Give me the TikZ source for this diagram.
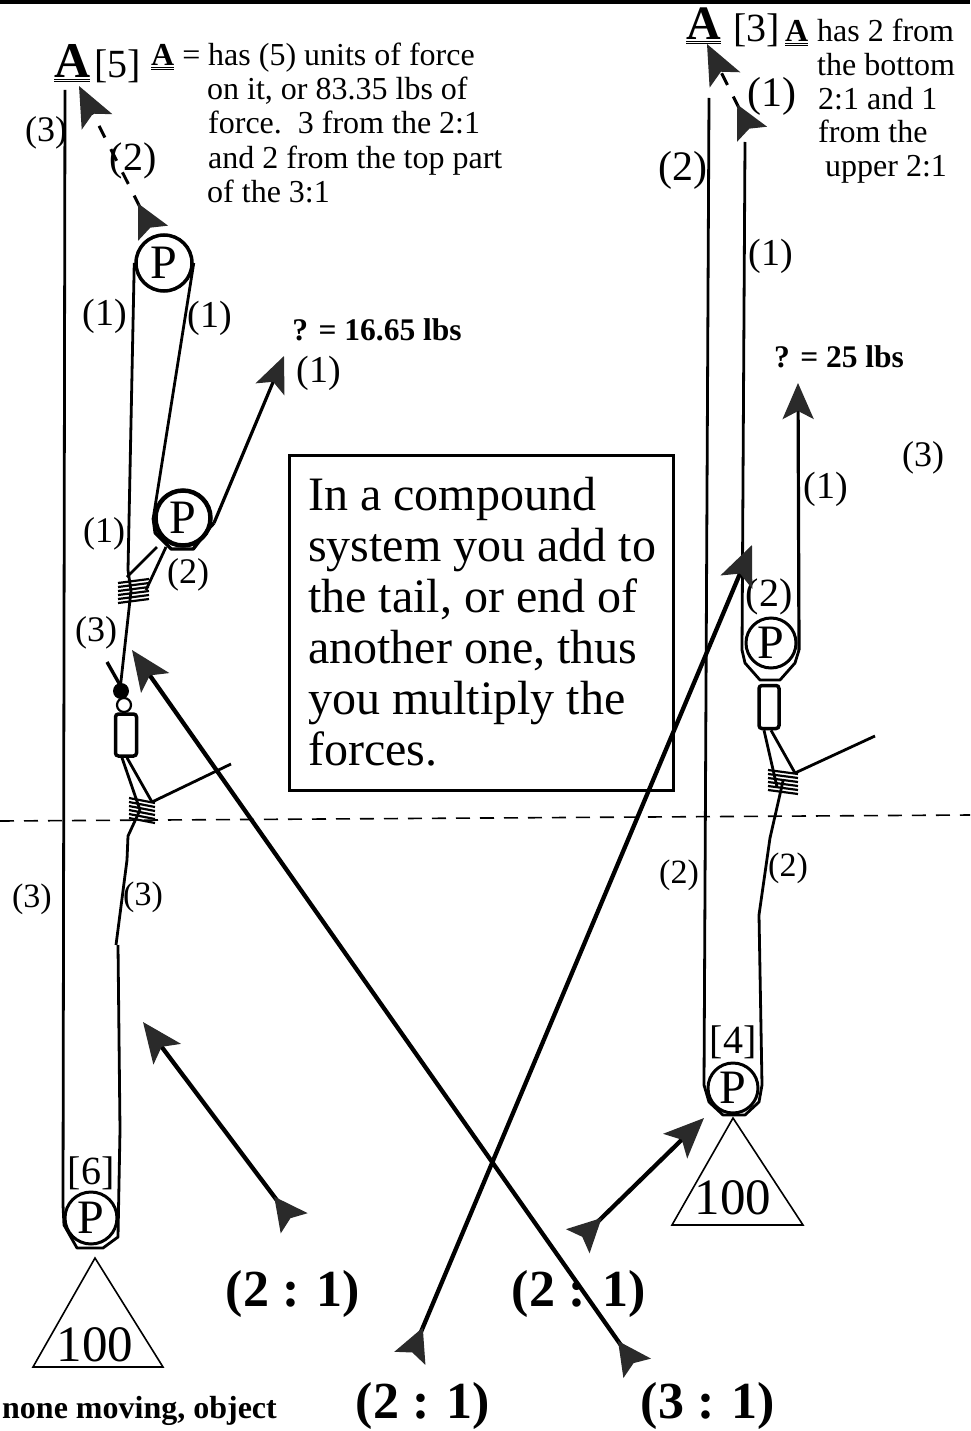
\documentclass[tikz,border=0pt]{standalone}
\usepackage{fontspec}
\setmainfont{Liberation Serif}
\usepackage{xcolor}
\usepackage{tikz}
\usetikzlibrary{arrows.meta, positioning}
\definecolor{inkdark}{HTML}{2A2A2A}
\newcommand{\fs}[1]{\fontsize{#1}{#1}\selectfont}
\tikzset{
  rope/.style={line width=2.8pt, line join=round, black},
  pulley/.style={circle, draw, line width=3pt, inner sep=0pt, minimum size=54pt, font=\fs{48}},
  link/.style={rectangle, rounded corners=3pt, draw, line width=3.5pt, inner sep=0pt},
  force/.style={{Stealth[reversed, length=33pt, width=33pt, inset=6pt, inkdark]}-{Stealth[length=40pt, width=34pt, inset=9pt, inkdark]}, line width=4.3pt},
  pull/.style={-{Stealth[length=36pt, width=31pt, inset=8pt, inkdark]}, line width=3.2pt},
  lift/.style={force, dash pattern=on 13pt off 13pt, line width=3pt},
  cnt/.style={anchor=center, inner sep=0pt, font=\fs{36}},
  txt/.style={anchor=base west, inner sep=0pt, font=\fs{32}},
  msgline/.style={anchor=base west, inner sep=0pt, font=\fs{48}},
  bold/.style={anchor=base, inner sep=0pt, font=\fs{52}\bfseries},
  note/.style={anchor=base, inner sep=0pt, font=\fs{31.5}\bfseries},
  knotline/.style={line width=2.2pt},
}
\begin{document}
\begin{tikzpicture}[x=1pt, y=-1pt]
\useasboundingbox (0,0) rectangle (970,1431);
\fill[black] (0,0) rectangle (970,4);

% pulleys, links
\node[pulley, minimum size=56pt, line width=3.5pt] (ptop) at (164,263) {P};
\node[pulley, minimum size=55pt, line width=4.5pt] (pmid) at (183,518) {P};
\node[pulley, minimum size=52pt] (pbot) at (91,1218) {P};
\node[pulley, minimum size=50pt] (pup) at (771,643) {P};
\node[pulley, minimum size=50pt] (plow) at (733,1088) {P};
\node[link, minimum width=21pt, minimum height=42pt] (linkl) at (126,735) {};
\node[link, minimum width=20pt, minimum height=43pt] (linkr) at (769,707) {};

% loads
\draw[line width=1.6pt] (95,1258) coordinate (lapex) -- (33,1367) -- (163,1367) -- cycle;
\draw[line width=1.6pt] (733,1118) coordinate (rapex) -- (672,1225) -- (803,1225) -- cycle;
\node[anchor=base, inner sep=0pt, font=\fs{51}] (lload) at (95,1361) {100};
\node[anchor=base, inner sep=0pt, font=\fs{51}] (rload) at (733,1214) {100};
\node[cnt, font=\fs{40}] (six) at (91,1173) {[6]};
\node[cnt, font=\fs{40}] (four) at (733,1042) {[4]};

% knots and free ends
\coordinate (kl1) at (131,591);
\coordinate (kl2) at (140,810);
\coordinate (kr) at (783,781);
\coordinate (ltop) at (65,90);
\coordinate (lend) at (116,945);
\coordinate (rtop) at (709,98);
\coordinate (rend) at (759,915);
\coordinate (uptop) at (745,142);
\coordinate (stub) at (107,662);
\coordinate (hl) at (284,356);
\coordinate (hr) at (798,383);
\coordinate (pulll) at (214,523);
\coordinate (pullr) at (799,650);
\foreach \dy in {-10,-6,-2,2,6,10} {
  \draw[knotline] ([shift={(-13,\dy+2)}]kl1) -- ([shift={(18,\dy-2)}]kl1);
  \draw[knotline] ([shift={(-11,\dy-2)}]kl2) -- ([shift={(15,\dy+3)}]kl2);
  \draw[knotline] ([shift={(-15,\dy-1)}]kr) -- ([shift={(15,\dy+3)}]kr);
}

% left side ropes
\draw[rope] (ltop) -- (63,1205) -- ++(1,20) -- ++(13,23) -- ++(26,0) -- ++(15,-11) -- (120,1130) -- (118,945);
\draw[rope] (lend) -- (127,860) -- (128,836) -- (kl2);
\draw[rope] (linkl.south) ++(-4,0) -- (kl2);
\draw[rope] (linkl.south) ++(1,0) -- (152,802);
\draw[rope] (152,802) -- (231,764) coordinate (tail1);
\draw[rope] (120,690) -- (kl1) -- (128,570) -- (ptop.west);
\draw[rope] (ptop.east) -- (pmid.west);
\draw[rope, line width=3.4pt] (pmid.west) -- ++(2,15) -- ++(16,16) -- ++(22,0) -- ++(17,-22) -- (pulll);
\draw[rope] (157,547) -- (127,577);
\draw[rope] (166,547) -- (146,590);
\draw[rope, line width=3.4pt] (stub) -- (120,685);
\fill (121,691) circle (8pt);
\draw[line width=2.2pt] (124,705) circle (7pt);

% right side ropes
\draw[rope] (rtop) -- (704,1085) -- ++(5,17) -- ++(14,13) -- ++(22,0) -- ++(14,-13) -- ++(3,-17) -- (rend);
\draw[rope] (rend) -- (770,838) -- (kr);
\draw[rope] (linkr.south) ++(-5,0) -- (777,787);
\draw[rope] (linkr.south) ++(2,0) -- (795,773);
\draw[rope] (795,773) -- (875,736) coordinate (tail2);
\draw[rope] (uptop) -- (742,650) -- ++(3,13) -- ++(15,17) -- ++(20,0) -- ++(15,-17) -- (pullr);

% horizontal line
\draw[line width=1.6pt, dash pattern=on 14pt off 10pt] (0,821) coordinate (dl) -- (970,815) coordinate (dr);

% text box
\node[rectangle, draw, line width=3pt, anchor=north west, minimum width=384pt, minimum height=335pt] (msg) at (288,454) {};
\node[msgline] (msg1) at (308,510) {In a compound};
\node[msgline] (msg2) at (308,561) {system you add to};
\node[msgline] (msg3) at (308,612) {the tail, or end of};
\node[msgline] (msg4) at (308,663) {another one, thus};
\node[msgline] (msg5) at (308,714) {you multiply the};
\node[msgline] (msg6) at (308,765) {forces.};

% top left text
\node[anchor=base west, inner sep=0pt, font=\fs{50}\bfseries] (al) at (54,78) {\underline{\underline{A}}};
\node[anchor=base west, inner sep=0pt, font=\fs{40}] (al5) at (94,78) {[5]};
\node[txt] (tl0) at (151,66) {\underline{\underline{\textbf{A}}} =};
\node[txt] (tl1) at (208,66) {has (5) units of force};
\node[txt] (tl2) at (207,100) {on it, or 83.35 lbs of};
\node[txt] (tl3) at (208,134) {force.\ \ 3 from the 2:1};
\node[txt] (tl4) at (208,169) {and 2 from the top part};
\node[txt] (tl5) at (207,203) {of the 3:1};

% top right text
\node[anchor=base west, inner sep=0pt, font=\fs{48}\bfseries] (ar) at (686,40) {\underline{\underline{A}}};
\node[anchor=base west, inner sep=0pt, font=\fs{40}] (ar3) at (733,42) {[3]};
\node[txt] (tr0) at (785,42) {\underline{\underline{\textbf{A}}}};
\node[txt] (tr1) at (817,42) {has 2 from};
\node[txt] (tr2) at (817,76) {the bottom};
\node[txt] (tr3) at (818,110) {2:1 and 1};
\node[txt] (tr4) at (818,143) {from the};
\node[txt] (tr5) at (825,177) {upper 2:1};

% forces
\node[note] (ql) at (377,340) {? = 16.65 lbs};
\node[note] (qr) at (839,367) {? = 25 lbs};
\node[cnt] (n1) at (46,133) {(3)};
\node[cnt, font=\fs{40}] (n2) at (133,161) {(2)};
\node[cnt, font=\fs{38}] (n3) at (105,316) {(1)};
\node[cnt, font=\fs{38}] (n4) at (210,318) {(1)};
\node[cnt, font=\fs{38}] (n5) at (319,373) {(1)};
\node[cnt] (n6) at (104,534) {(1)};
\node[cnt] (n7) at (188,575) {(2)};
\node[cnt] (n8) at (96,633) {(3)};
\node[cnt, font=\fs{34}] (n9) at (32,899) {(3)};
\node[cnt, font=\fs{34}] (n10) at (143,897) {(3)};
\node[cnt, font=\fs{42}] (n11) at (683,170) {(2)};
\node[cnt, font=\fs{42}] (n12) at (772,96) {(1)};
\node[cnt, font=\fs{38}] (n13) at (771,256) {(1)};
\node[cnt, font=\fs{38}] (n14) at (826,489) {(1)};
\node[cnt] (n15) at (923,458) {(3)};
\node[cnt, font=\fs{40}] (n16) at (769,597) {(2)};
\node[cnt, font=\fs{34}] (n17) at (679,875) {(2)};
\node[cnt, font=\fs{34}] (n18) at (788,868) {(2)};

% ratios
\node[bold] (r1) at (293,1306) {(2 : 1)};
\node[bold] (r2) at (579,1306) {(2 : 1)};
\node[bold] (r3) at (423,1418) {(2 : 1)};
\node[bold] (r4) at (708,1418) {(3 : 1)};
\node[anchor=base west, inner sep=0pt, font=\fs{32}\bfseries] (cap) at (2,1418) {none moving, object};

% arrows
\coordinate (t1) at (294,1223); \coordinate (h1) at (143,1022);
\coordinate (t2) at (637,1368); \coordinate (h2) at (132,650);
\coordinate (t3) at (410,1358); \coordinate (h3) at (752,545);
\coordinate (t4) at (578,1241); \coordinate (h4) at (704,1118);
\coordinate (t5) at (153,233); \coordinate (h5) at (79,86);
\coordinate (t6) at (752,134); \coordinate (h6) at (707,44);
\draw[force] (t1) -- (h1);
\draw[force] (t2) -- (h2);
\draw[force] (t3) -- (h3);
\draw[force] (t4) -- (h4);
\draw[lift] (t5) -- (h5);
\draw[lift] (t6) -- (h6);
\draw[pull] (pulll) -- (hl);
\draw[pull] (pullr) -- (hr);
\end{tikzpicture}
\end{document}
